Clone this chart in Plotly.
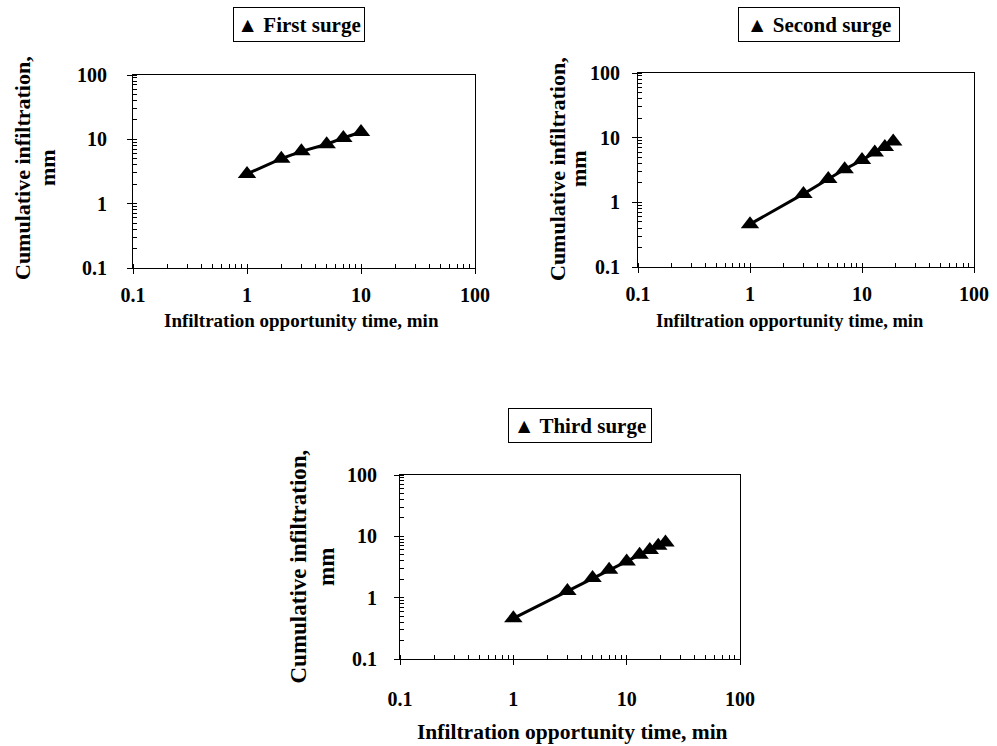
import plotly.graph_objects as go

# Data
t1 = [1, 2, 3, 5, 7, 10]
I1 = [2.9, 5.0, 6.5, 8.4, 10.5, 13.0]
t2 = [1, 3, 5, 7, 10, 13, 16, 19]
I2 = [0.46, 1.35, 2.3, 3.25, 4.5, 5.9, 7.2, 8.7]
t3 = [1, 3, 5, 7, 10, 13, 16, 19, 22]
I3 = [0.46, 1.28, 2.1, 2.85, 3.9, 5.0, 6.0, 7.0, 7.9]
series_names = ["First surge", "Second surge", "Third surge"]
tick_vals = [0.1, 1, 10, 100]
tick_text = ["0.1", "1", "10", "100"]
x_title = "Infiltration opportunity time, min"
y_title_lines = ["Cumulative infiltration,", "mm"]

FONT = "Liberation Serif"
W, H = 997, 746

fig = go.Figure()
for i, (t, v, name) in enumerate(zip([t1, t2, t3], [I1, I2, I3], series_names)):
    suffix = "" if i == 0 else str(i + 1)
    fig.add_trace(go.Scatter(
        x=t, y=v, mode="lines+markers", name=name,
        xaxis="x" + suffix, yaxis="y" + suffix,
        line=dict(color="black", width=3),
        marker=dict(symbol="triangle-up", size=16, color="black"),
        showlegend=False,
    ))

# per-panel layout (pixels)
panels = [
    dict(box=(133, 475, 75, 268), xstand=4, ystand=16,
         xt=(301.5, 320, 19), yt=(22, 47, 168, 22), leg=(299, 24.5, 124, 27)),
    dict(box=(638, 974, 73, 267), xstand=4, ystand=8,
         xt=(790, 321, 18.5), yt=(557, 578, 169, 22), leg=(819, 24.5, 154, 27)),
    dict(box=(400, 740, 475, 659), xstand=17, ystand=13,
         xt=(572, 732, 21.5), yt=(297.5, 326, 567, 23), leg=(580, 425.5, 136, 27)),
]

def axis_common():
    return dict(
        type="log", range=[-1, 2], automargin=False,
        tickvals=tick_vals, ticktext=tick_text,
        tickfont=dict(family=FONT, size=20, color="black", weight="bold"),
        showgrid=False, zeroline=False,
        showline=True, linecolor="black", linewidth=1, mirror=True,
        ticks="outside", ticklen=5, tickcolor="black", tickwidth=1,
        minor=dict(dtick="D1", ticks="inside", ticklen=4, tickcolor="black", showgrid=False),
    )

layout = dict(
    width=W, height=H, margin=dict(l=0, r=0, t=0, b=0, autoexpand=False),
    paper_bgcolor="white", plot_bgcolor="white",
    font=dict(family=FONT, color="black"),
)
annotations = []
for i, (p, name) in enumerate(zip(panels, series_names)):
    l, r, tp, b = p["box"]
    suffix = "" if i == 0 else str(i + 1)
    xa = axis_common()
    xa.update(domain=[l / W, r / W], anchor="y" + suffix, ticklabelstandoff=p["xstand"])
    ya = axis_common()
    ya.update(domain=[1 - b / H, 1 - tp / H], anchor="x" + suffix, ticklabelstandoff=p["ystand"])
    layout["xaxis" + suffix] = xa
    layout["yaxis" + suffix] = ya
    # x title
    cx, cy, fs = p["xt"]
    annotations.append(dict(
        text=x_title, xref="paper", yref="paper",
        x=cx / W, y=1 - cy / H, xanchor="center", yanchor="middle",
        showarrow=False, font=dict(family=FONT, size=fs, color="black", weight="bold"),
    ))
    # y title (two lines)
    x1, x2, ycen, fs = p["yt"]
    for line, xx in zip(y_title_lines, (x1, x2)):
        annotations.append(dict(
            text=line, xref="paper", yref="paper",
            x=xx / W, y=1 - ycen / H, xanchor="center", yanchor="middle",
            textangle=-90, showarrow=False,
            font=dict(family=FONT, size=fs, color="black", weight="bold"),
        ))
    # legend box
    lx, ly, lw, lh = p["leg"]
    annotations.append(dict(
        text="▲ " + name, xref="paper", yref="paper",
        x=lx / W, y=1 - ly / H, xanchor="center", yanchor="middle",
        width=lw, height=lh, align="center",
        showarrow=False, bordercolor="black", borderwidth=1, borderpad=3,
        font=dict(family=FONT, size=21, color="black", weight="bold"),
    ))

layout["annotations"] = annotations
fig.update_layout(**layout)
fig.write_html("out.html")
